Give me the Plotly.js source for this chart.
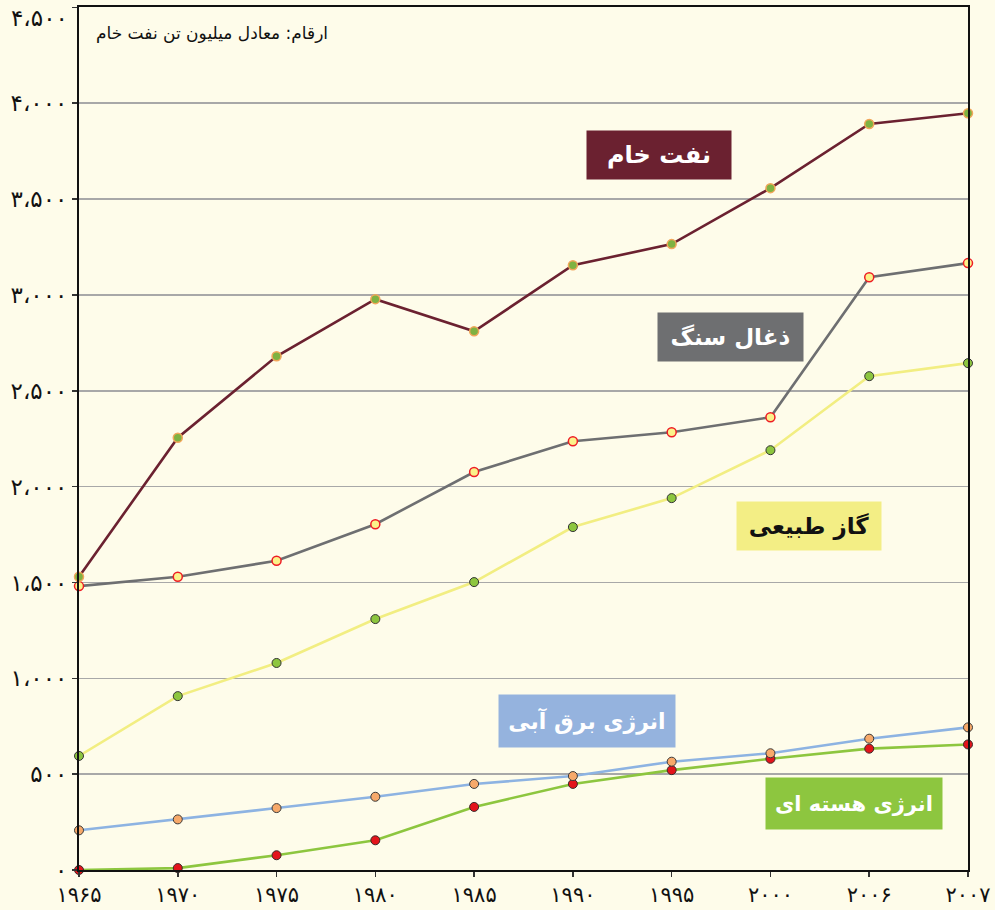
<!DOCTYPE html>
<html>
<head>
<meta charset="utf-8">
<script src="https://cdn.plot.ly/plotly-3.0.1.min.js"></script>
<style>html,body{margin:0;padding:0;background:#FEFCEA;}</style>
</head>
<body>
<div id="chart" style="width:995px;height:910px;"></div>
<script>
// Categories (years in Persian digits)
const years = ["۱۹۶۵","۱۹۷۰","۱۹۷۵","۱۹۸۰","۱۹۸۵","۱۹۹۰","۱۹۹۵","۲۰۰۰","۲۰۰۶","۲۰۰۷"];

// Series values (million tonnes oil equivalent)
const crudeOil = [1530, 2255, 2680, 2978, 2810, 3155, 3265, 3557, 3892, 3948];
const coal     = [1481, 1530, 1613, 1804, 2076, 2237, 2284, 2362, 3092, 3166];
const naturalGas = [595, 907, 1080, 1309, 1502, 1789, 1940, 2190, 2576, 2644];
const hydro    = [207, 264, 323, 382, 449, 490, 565, 609, 685, 744];
const nuclear  = [0, 10, 77, 155, 329, 449, 521, 580, 633, 655];

// Y tick labels (top label drawn separately because it sits at the frame edge)
const yTickVals = [0, 500, 1000, 1500, 2000, 2500, 3000, 3500, 4000, 4500];
const yTickText = ["۰","۵۰۰","۱،۰۰۰","۱،۵۰۰","۲،۰۰۰","۲،۵۰۰","۳،۰۰۰","۳،۵۰۰","۴،۰۰۰",""];
const yTopLabel = "۴،۵۰۰";

// Series names
const names = ["نفت خام","ذغال سنگ","گاز طبیعی","انرژی برق آبی","انرژی هسته ای"];
const noteText = "ارقام: معادل میلیون تن نفت خام";

const font = "DejaVu Sans, sans-serif";

function tr(y, name, lineColor, fill, outline, ow) {
  return {
    x: years, y: y, name: name, type: "scatter", mode: "lines+markers",
    cliponaxis: false,
    line: {color: lineColor, width: 2.6},
    marker: {size: 9, color: fill, line: {color: outline, width: ow}},
    hoverinfo: "y"
  };
}

const data = [
  tr(nuclear, names[4], "#8DC63F", "#E3141B", "#3a2a2a", 1),
  tr(hydro, names[3], "#8DB3E2", "#F7A96A", "#3a3a3a", 1),
  tr(naturalGas, names[2], "#F2EE82", "#8DC63F", "#333333", 1),
  tr(coal, names[1], "#6E6F71", "#FBF28A", "#EE1C25", 1.5),
  tr(crudeOil, names[0], "#6B2130", "#7FB241", "#F2A65A", 1.5)
];

function box(text, x, y, w, h, bg, fg, fs) {
  return {
    xref: "paper", yref: "paper", x: x, y: y, xanchor: "center", yanchor: "middle",
    text: "<b>" + text + "</b>", showarrow: false, width: w, height: h,
    bgcolor: bg, borderpad: 0, align: "center", valign: "middle",
    font: {family: font, size: fs, color: fg}
  };
}

const layout = {
  width: 995, height: 910,
  paper_bgcolor: "#FEFCEA", plot_bgcolor: "#FEFCEA",
  margin: {l: 79, r: 27, t: 7, b: 40},
  showlegend: false,
  xaxis: {
    type: "category", range: [0, 9],
    showgrid: false, zeroline: false,
    showline: true, linecolor: "#111111", linewidth: 2, mirror: true,
    ticks: "outside", ticklen: 5, tickcolor: "#333333", tickwidth: 1.5,
    tickfont: {family: font, size: 21, color: "#111111"}
  },
  yaxis: {
    range: [0, 4502], tickvals: yTickVals, ticktext: yTickText,
    showgrid: true, gridcolor: "#A8A8A8", gridwidth: 1.5, zeroline: false,
    showline: true, linecolor: "#111111", linewidth: 2, mirror: true,
    ticks: "outside", ticklen: 5, tickcolor: "#333333", tickwidth: 1.5,
    tickfont: {family: font, size: 23, color: "#111111"}
  },
  annotations: [
    {xref: "paper", yref: "paper", x: 0, y: 0.987, xanchor: "right", yanchor: "middle",
     xshift: -9, text: yTopLabel, showarrow: false,
     font: {family: font, size: 23, color: "#111111"}},
    {xref: "paper", yref: "paper", x: 0.2823, y: 0.9699, xanchor: "right", yanchor: "middle",
     text: noteText, showarrow: false, font: {family: font, size: 17, color: "#111111"}},
    box(names[0], 0.6524, 0.8285, 144, 48, "#6B2130", "#FFFFFF", 24),
    box(names[1], 0.7323, 0.6176, 145, 48, "#6E6F71", "#FFFFFF", 23),
    box(names[2], 0.8211, 0.3986, 144, 48, "#F3EE85", "#111111", 23),
    box(names[3], 0.5714, 0.1727, 176, 52, "#95B3DE", "#FFFFFF", 22),
    box(names[4], 0.8718, 0.0765, 176, 51, "#8DC63F", "#FFFFFF", 21)
  ]
};

Plotly.newPlot("chart", data, layout, {displayModeBar: false, staticPlot: true});
</script>
</body>
</html>
